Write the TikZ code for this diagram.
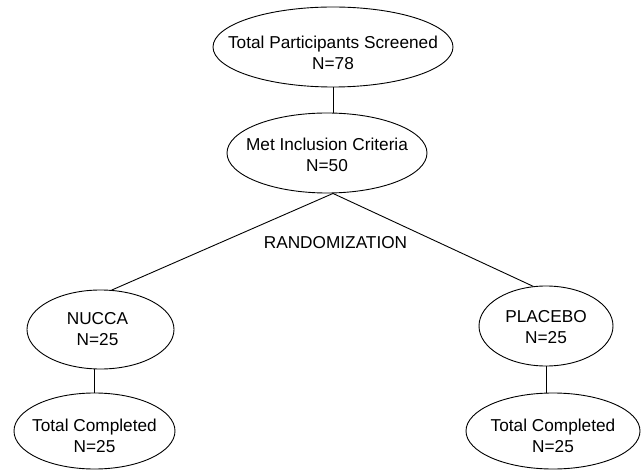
\documentclass[tikz,border=0pt]{standalone}
\usepackage{fontspec}
\setmainfont{Liberation Sans}
\usetikzlibrary{shapes}

\begin{document}
\begin{tikzpicture}[x=1bp, y=-1bp, line width=0.9bp,
  oval/.style={draw, ellipse, inner sep=0pt},
  txt/.style={align=center, inner sep=0pt, font=\fontsize{17.3}{21}\selectfont}]
  \useasboundingbox (0,0) rectangle (643,470);
  \path (333,47) node[oval, minimum width=240bp, minimum height=80bp] (screened) {};
  \path (327,153) node[oval, minimum width=200bp, minimum height=80bp] (met) {};
  \path (100.5,329.5) node[oval, minimum width=147bp, minimum height=79bp] (nucca) {};
  \path (546,326) node[oval, minimum width=134bp, minimum height=80bp] (placebo) {};
  \path (94.5,431) node[oval, minimum width=161bp, minimum height=76bp] (nuccadone) {};
  \path (553,431) node[oval, minimum width=174bp, minimum height=76bp] (placebodone) {};
  \path ([yshift=-6bp]screened) node[txt] (screenedtxt) {Total Participants Screened\\N=78};
  \path ([yshift=-2bp]met) node[txt] (mettxt) {Met Inclusion Criteria\\N=50};
  \path ([xshift=-3bp]nucca) node[txt] (nuccatxt) {NUCCA\\N=25};
  \path ([yshift=-1bp]placebo) node[txt] (placebotxt) {PLACEBO\\N=25};
  \path ([yshift=-5bp]nuccadone) node[txt] (nuccadonetxt) {Total Completed\\N=25};
  \path ([yshift=-5bp]placebodone) node[txt] (placebodonetxt) {Total Completed\\N=25};
  \path (335.5,243) node[txt] (rand) {RANDOMIZATION};
  \coordinate (split) at (screened.south |- met.south);
  \begin{scope}[line cap=round]
    \draw (screened.south) -- (screened.south |- met.north);
    \draw (split) -- (nucca.74);
    \draw (split) -- (placebo.108);
    \draw (nucca.south -| nuccadone.north) -- (nuccadone.north);
    \draw (placebo.south) -- (placebo.south |- placebodone.north);
  \end{scope}
\end{tikzpicture}
\end{document}
